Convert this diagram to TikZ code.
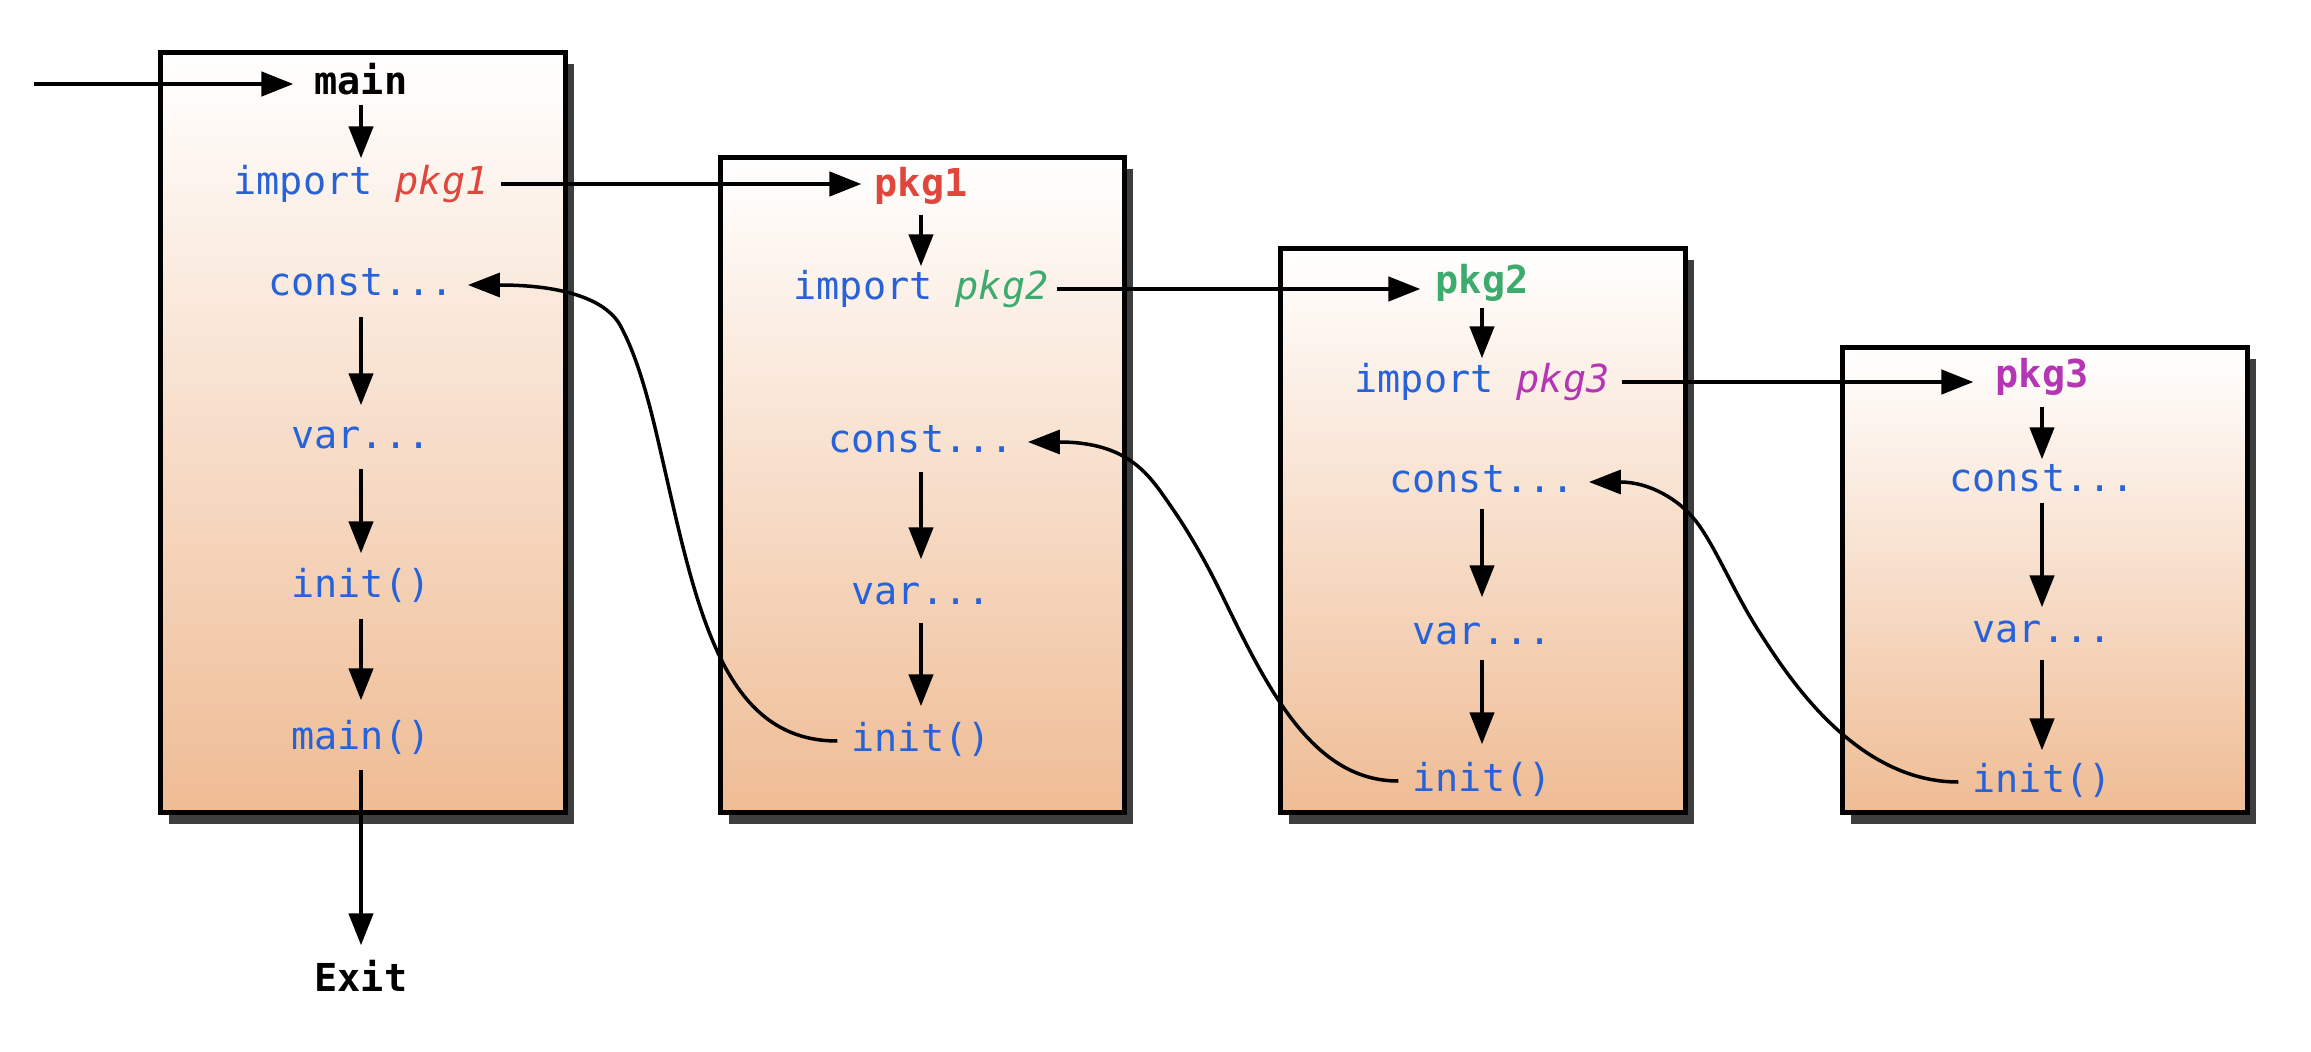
\documentclass[tikz,border=0pt]{standalone}
\usepackage{fontspec}
\setmonofont{DejaVu Sans Mono}
\usetikzlibrary{arrows.meta,shadows}
\definecolor{kwblue}{HTML}{2762D9}
\definecolor{pkred}{HTML}{E0463C}
\definecolor{pkgreen}{HTML}{3DAA6E}
\definecolor{pkmag}{HTML}{B436B4}
\definecolor{peach}{HTML}{EFBC94}
\definecolor{shadowgray}{HTML}{3E3E3E}
\begin{document}
\begin{tikzpicture}[x=1pt,y=-1pt,
  txt/.style={font=\fontsize{38.5pt}{46pt}\selectfont\ttfamily, text height=29pt, text depth=8pt, inner sep=2pt},
  code/.style={txt, text=kwblue},
  head/.style={txt, font=\fontsize{38.5pt}{46pt}\selectfont\ttfamily\bfseries},
  pkgbox/.style={draw=black, line width=5pt, top color=white, bottom color=peach,
     drop shadow={shadow xshift=9pt, shadow yshift=-12pt, fill=shadowgray, opacity=1}},
  arr/.style={line width=4.5pt, -{Triangle[length=32pt,width=24pt]}},
  hdr/.style={arr, shorten <=3pt, shorten >=3pt},
  vstep/.style={arr, shorten <=9pt, shorten >=14pt},
  hstep/.style={arr, shorten <=9pt, shorten >=12pt},
  curv/.style={line width=3.5pt, -{Triangle[length=32pt,width=24pt]}, shorten <=12pt, shorten >=12pt},
]
\useasboundingbox (0,0) rectangle (2311,1052);

% boxes
\draw[pkgbox] (160,52) rectangle (565,812);
\draw[pkgbox] (720,157) rectangle (1124,812);
\draw[pkgbox] (1280,248) rectangle (1685,812);
\draw[pkgbox] (1842,347) rectangle (2247,812);

% box 1 (main)
\node[head] (main) at (361,84) {main};
\node[code] (imp1) at (361,184) {import \textcolor{pkred}{\itshape pkg1}};
\node[code] (const1) at (361,285) {const...};
\node[code] (var1) at (361,438) {var...};
\node[code] (init1) at (361,587) {init()};
\node[code] (mainf) at (361,739) {main()};
\node[head] (exit) at (361,981) {Exit};
\coordinate (entry) at (34,84);

% box 2 (pkg1)
\node[head, text=pkred] (pkg1) at (921,186) {pkg1};
\node[code] (imp2) at (921,289) {import \textcolor{pkgreen}{\itshape pkg2}};
\node[code] (const2) at (921,442) {const...};
\node[code] (var2) at (921,594) {var...};
\node[code] (init2) at (921,741) {init()};

% box 3 (pkg2)
\node[head, text=pkgreen] (pkg2) at (1482,283) {pkg2};
\node[code] (imp3) at (1482,382) {import \textcolor{pkmag}{\itshape pkg3}};
\node[code] (const3) at (1482,482) {const...};
\node[code] (var3) at (1482,634) {var...};
\node[code] (init3) at (1482,781) {init()};

% box 4 (pkg3)
\node[head, text=pkmag] (pkg3) at (2042,377) {pkg3};
\node[code] (const4) at (2042,481) {const...};
\node[code] (var4) at (2042,632) {var...};
\node[code] (init4) at (2042,782) {init()};

% vertical arrows
\draw[hdr, shorten <=0pt, shorten >=5pt] (main) -- (imp1);
\draw[vstep, shorten <=11pt, shorten >=12pt] (const1) -- (var1);
\draw[vstep, shorten <=10pt, shorten >=13pt] (var1) -- (init1);
\draw[vstep, shorten <=11pt, shorten >=18pt] (init1) -- (mainf);
\draw[vstep, shorten <=10pt, shorten >=15pt] (mainf) -- (exit);

\draw[hdr, shorten <=8pt, shorten >=2pt] (pkg1) -- (imp2);
\draw[vstep] (const2) -- (var2);
\draw[vstep, shorten <=8pt] (var2) -- (init2);

\draw[hdr, shorten <=4pt, shorten >=3pt] (pkg2) -- (imp3);
\draw[vstep, shorten <=6pt, shorten >=16pt] (const3) -- (var3);
\draw[vstep, shorten <=5pt, shorten >=16pt] (var3) -- (init3);

\draw[hdr, shorten <=9pt, shorten >=1pt] (pkg3) -- (const4);
\draw[vstep, shorten <=1pt, shorten >=4pt] (const4) -- (var4);
\draw[vstep, shorten <=7pt, shorten >=11pt] (var4) -- (init4);

% horizontal arrows
\draw[arr, shorten >=19pt] (entry) -- (main);
\draw[hstep, shorten <=10pt, shorten >=11pt] (imp1.east) -- (imp1.east -| pkg1.west);
\draw[hstep, shorten <=6pt, shorten >=13pt] (imp2.east) -- (imp2.east -| pkg2.west);
\draw[hstep, shorten <=10pt, shorten >=20pt] (imp3.east) -- (imp3.east -| pkg3.west);

% return curves
\draw[curv] (init2.west) .. controls (727,741) and (699,620) .. (666,475)
   .. controls (654.5,425) and (642,365) .. (620,325)
   .. controls (609,305) and (575,285) .. (const1.east);
\draw[curv] (init3.west) .. controls (1313,781) and (1268,690) .. (1222,595)
   .. controls (1205,560) and (1187.5,530) .. (1170,505)
   .. controls (1150.4,477) and (1130,442) .. (const2.east);
\draw[curv] (init4.west) .. controls (1857,782) and (1790,680) .. (1760,633)
   .. controls (1734,593) and (1715,545) .. (1695,520)
   .. controls (1679,500) and (1650,482) .. (const3.east);
\end{tikzpicture}
\end{document}
